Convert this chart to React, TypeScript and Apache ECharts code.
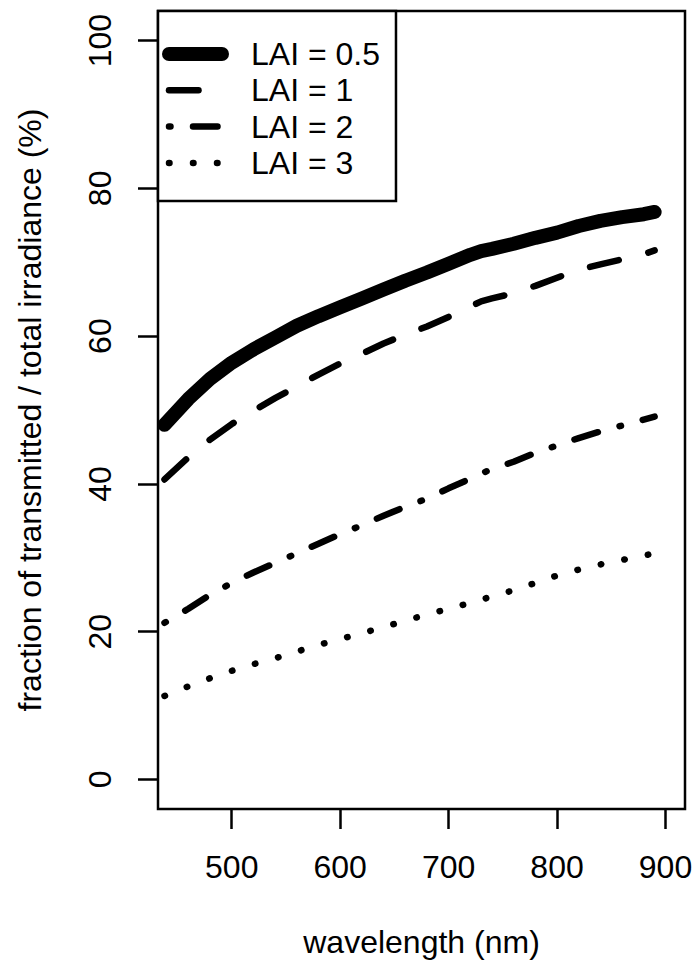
import React, { useEffect, useRef } from "react";
import * as echarts from "echarts";

const wavelengths = [438, 460, 480, 500, 520, 540, 560, 580, 600, 620, 640, 660, 680, 700, 720, 730, 740, 760, 780, 800, 820, 840, 860, 880, 890];
const lai05 = [48.0, 51.5, 54.2, 56.4, 58.2, 59.8, 61.4, 62.7, 63.9, 65.1, 66.3, 67.5, 68.6, 69.8, 71.0, 71.5, 71.8, 72.5, 73.3, 74.0, 74.9, 75.6, 76.1, 76.5, 76.8];
const lai1 = [40.6, 43.6, 46.0, 48.1, 49.9, 51.6, 53.2, 54.8, 56.3, 57.6, 59.0, 60.2, 61.3, 62.6, 64.0, 64.7, 65.1, 65.8, 66.8, 67.9, 69.0, 69.7, 70.4, 71.1, 71.6];
const lai2 = [21.2, 23.1, 25.0, 26.6, 28.0, 29.3, 30.6, 31.9, 33.2, 34.4, 35.7, 36.9, 38.0, 39.4, 40.7, 41.4, 42.0, 43.0, 44.2, 45.2, 46.2, 47.1, 47.9, 48.7, 49.1];
const lai3 = [11.3, 12.6, 13.7, 14.7, 15.6, 16.4, 17.3, 18.2, 19.0, 19.8, 20.6, 21.5, 22.3, 23.1, 23.9, 24.3, 24.8, 25.6, 26.6, 27.6, 28.4, 29.1, 29.7, 30.3, 30.6];
const seriesNames = ["LAI = 0.5", "LAI = 1", "LAI = 2", "LAI = 3"];
const xTicks = [500, 600, 700, 800, 900];
const yTicks = [0, 20, 40, 60, 80, 100];

const FONT = "'Liberation Sans', Arial, Helvetica, sans-serif";

export default function App() {
  const ref = useRef<HTMLDivElement>(null);
  useEffect(() => {
    if (!ref.current) return;
    const chart = echarts.init(ref.current, null, { renderer: "svg" });
    const pair = (vals: number[]) => wavelengths.map((w, i) => [w, vals[i]]);
    const styles = [
      { width: 14, type: "solid" as any },
      { width: 6.5, type: [29.5, 30.5] },
      { width: 6.5, type: [1.5, 22.5, 24.5, 22.5] },
      { width: 6.5, type: [0.5, 23.5] },
    ];
    const allVals = [lai05, lai1, lai2, lai3];
    chart.setOption({
      animation: false,
      textStyle: { fontFamily: FONT, color: "#000" },
      grid: {
        left: 158,
        top: 11,
        width: 527,
        height: 799,
        show: true,
        borderColor: "#000",
        borderWidth: 2.5,
        backgroundColor: "transparent",
      },
      legend: {
        orient: "vertical",
        left: 158,
        top: 11,
        padding: [27, 16, 22, 4],
        itemGap: 4.3,
        itemWidth: 53,
        itemHeight: 14,
        borderColor: "#000",
        borderWidth: 2.5,
        backgroundColor: "#fff",
        selectedMode: false,
        data: seriesNames,
        lineStyle: { width: "inherit", type: "inherit", cap: "inherit" },
        itemStyle: { opacity: 0, borderWidth: 0 },
        textStyle: {
          fontFamily: FONT,
          fontSize: 32,
          lineHeight: 32,
          color: "#000",
          padding: [0, 0, 0, 24],
        },
      },
      xAxis: {
        type: "value",
        min: 432,
        max: 918,
        name: "wavelength (nm)",
        nameLocation: "middle",
        nameGap: 117,
        nameTextStyle: { fontFamily: FONT, fontSize: 32, color: "#000" },
        axisLine: { show: false, onZero: false },
        splitLine: { show: false },
        axisTick: {
          show: true,
          inside: false,
          length: 20,
          customValues: xTicks,
          lineStyle: { color: "#000", width: 2.5 },
        },
        axisLabel: {
          customValues: xTicks,
          margin: 42,
          fontFamily: FONT,
          fontSize: 32,
          color: "#000",
        },
      },
      yAxis: {
        type: "value",
        min: -4,
        max: 104,
        name: "fraction of transmitted / total irradiance (%)",
        nameLocation: "middle",
        nameGap: 112,
        nameTextStyle: { fontFamily: FONT, fontSize: 32, color: "#000" },
        axisLine: { show: false, onZero: false },
        splitLine: { show: false },
        axisTick: {
          show: true,
          inside: false,
          length: 20,
          customValues: yTicks,
          lineStyle: { color: "#000", width: 2.5 },
        },
        axisLabel: {
          customValues: yTicks,
          rotate: 90,
          margin: 42,
          fontFamily: FONT,
          fontSize: 32,
          color: "#000",
        },
      },
      series: seriesNames.map((name, i) => ({
        name,
        type: "line",
        data: pair(allVals[i]),
        symbol: "none",
        showSymbol: false,
        silent: true,
        color: "#000",
        lineStyle: {
          color: "#000",
          width: styles[i].width,
          type: styles[i].type,
          cap: "round",
          join: "round",
        },
      })),
    });
    return () => chart.dispose();
  }, []);
  return (
    <div
      ref={ref}
      style={{ position: "absolute", left: 0, top: 0, width: 698, height: 963, background: "#fff" }}
    />
  );
}
